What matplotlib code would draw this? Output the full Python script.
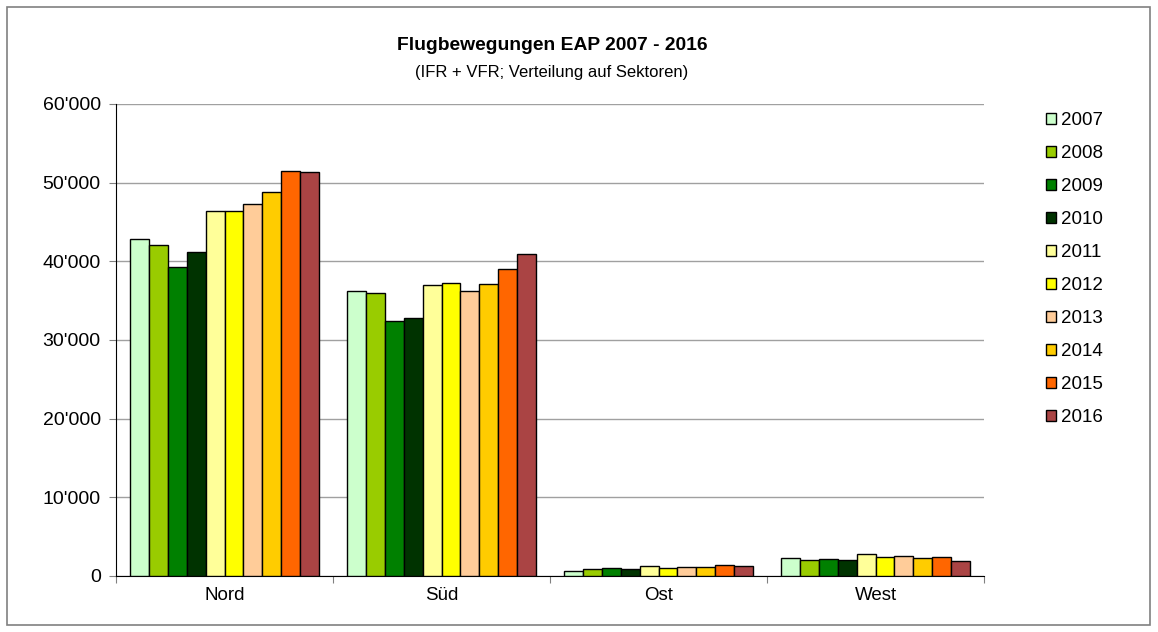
import matplotlib
matplotlib.use("Agg")
import matplotlib.pyplot as plt
import matplotlib.patches as mpatches
from matplotlib.ticker import FuncFormatter, FixedLocator
import numpy as np

plt.rcParams['font.family'] = ['Liberation Sans', 'DejaVu Sans']

categories = ["Nord", "Süd", "Ost", "West"]
years = ["2007", "2008", "2009", "2010", "2011", "2012", "2013", "2014", "2015", "2016"]
nord = [42800, 42100, 39300, 41200, 46400, 46400, 47300, 48850, 51500, 51350]
sued = [36230, 35930, 32450, 32830, 36990, 37290, 36270, 37080, 39060, 40930]
ost = [600, 900, 1000, 950, 1320, 1070, 1140, 1140, 1400, 1270]
west = [2290, 2080, 2210, 2080, 2800, 2460, 2540, 2290, 2420, 1900]
colors = ["#CCFFCC", "#99CC00", "#008000", "#003300", "#FFFF99",
          "#FFFF00", "#FFCC99", "#FFCC00", "#FF6600", "#AA4444"]

values = np.array([nord, sued, ost, west])  # shape (cat, year)

W, H = 1158, 632
fig = plt.figure(figsize=(W / 100, H / 100), dpi=100)
ax = fig.add_axes([116 / W, 1 - 576 / H, (984 - 116) / W, (576 - 104) / H])

n = len(years)
bw = 0.087
x = np.arange(len(categories))
for j, yr in enumerate(years):
    pos = x - bw * n / 2 + bw * (j + 0.5)
    ax.bar(pos, values[:, j], width=bw, color=colors[j], edgecolor="black",
           linewidth=1.0, label=yr, zorder=3)

ax.set_xlim(-0.5, len(categories) - 0.5)
ax.set_ylim(0, 60000)
ax.set_yticks(np.arange(0, 60001, 10000))
ax.yaxis.set_major_formatter(FuncFormatter(lambda v, p: "0" if v == 0 else f"{int(v):,}".replace(",", "'")))
ax.yaxis.grid(True, color="#A0A0A0", linewidth=1.0, zorder=0)
ax.set_axisbelow(True)

ax.xaxis.set_major_locator(FixedLocator(np.arange(-0.5, len(categories), 1.0)))
ax.set_xticklabels([""] * (len(categories) + 1))
ax.xaxis.set_minor_locator(FixedLocator(x))
ax.set_xticklabels(categories, minor=True)
ax.tick_params(axis="x", which="major", length=5, color="#808080", direction="out")
ax.tick_params(axis="x", which="minor", length=0, pad=8, labelsize=13.5)
ax.tick_params(axis="y", length=5, color="#808080", labelsize=14, pad=6)

for s in ["top", "right"]:
    ax.spines[s].set_visible(False)
ax.spines["left"].set_color("black")
ax.spines["bottom"].set_color("black")

fig.text(552 / W, 1 - 45 / H, "Flugbewegungen EAP 2007 - 2016", ha="center", va="center",
         fontsize=13.9, fontweight="bold")
fig.text(552 / W, 1 - 73 / H, "(IFR + VFR; Verteilung auf Sektoren)", ha="center", va="center",
         fontsize=12)

leg = ax.legend(loc="upper left", bbox_to_anchor=(1038 / W, 1 - 104.5 / H),
                bbox_transform=fig.transFigure, frameon=False, fontsize=13.5,
                handlelength=0.55, handleheight=0.55, handletextpad=0.25,
                labelspacing=0.855, borderaxespad=0)

fig.patches.append(mpatches.Rectangle((7 / W, 7 / H), (1150 - 7) / W, (625 - 7) / H,
                                      transform=fig.transFigure, fill=False,
                                      edgecolor="#808080", linewidth=1.2))

fig.savefig("out.png", dpi=100)
